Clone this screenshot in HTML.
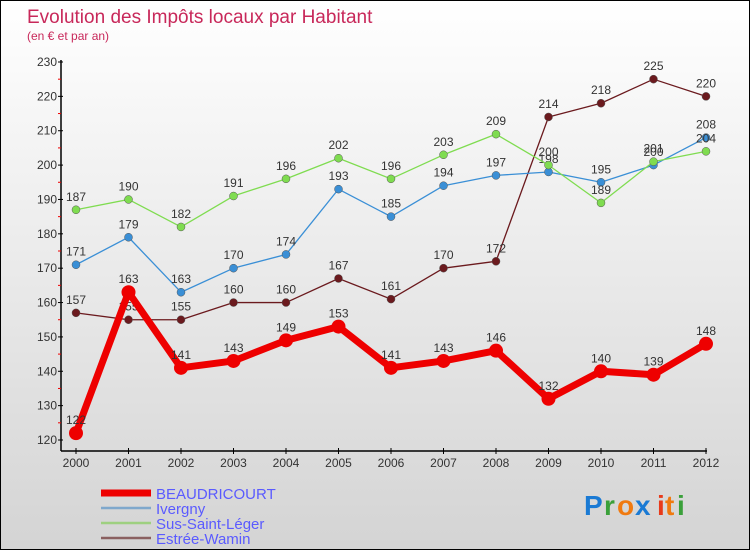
<!DOCTYPE html>
<html><head><meta charset="utf-8">
<style>
html,body{margin:0;padding:0}
body{width:750px;height:550px;overflow:hidden;font-family:"Liberation Sans",sans-serif}
#wrap{position:relative;width:748px;height:548px;border:1px solid #000;background:linear-gradient(#ffffff,#d4d4d4)}
svg{position:absolute;left:0;top:0}
</style></head><body>
<div id="wrap">
<svg id="chart" width="750" height="550">
<text x="26" y="22" font-size="19" fill="#c8285a">Evolution des Impôts locaux par Habitant</text>
<text x="26" y="39" font-size="12" fill="#c8285a">(en € et par an)</text>
<g id="axes"></g><g id="series"></g><g id="legend"></g>
<g font-size="28" font-weight="bold" font-family="'Liberation Sans',sans-serif">
<text x="583" y="514" fill="#1a7ad4">P</text><text x="603" y="514" fill="#3aa03a">r</text><text x="616" y="514" fill="#f07a10">o</text><text x="634" y="514" fill="#1a7ad4">x</text><text x="656" y="514" fill="#e83a1a">i</text><text x="664" y="514" fill="#f07a10">t</text><text x="676" y="514" fill="#3aa03a">i</text>
</g>
</svg>
</div>
<script>
const years=[2000,2001,2002,2003,2004,2005,2006,2007,2008,2009,2010,2011,2012];
const yTicks=[120,130,140,150,160,170,180,190,200,210,220,230];
const beaudricourt=[122,163,141,143,149,153,141,143,146,132,140,139,148];
const ivergny=[171,179,163,170,174,193,185,194,197,198,195,200,208];
const susSaintLeger=[187,190,182,191,196,202,196,203,209,200,189,201,204];
const estreeWamin=[157,155,155,160,160,167,161,170,172,214,218,225,220];
const NS='http://www.w3.org/2000/svg';
function X(i){return 75+i*52.5;}
function Y(v){return 439-(v-120)*37.8/11*1;}
function mk(t,a,p){const e=document.createElementNS(NS,t);for(const k in a)e.setAttribute(k,a[k]);p.appendChild(e);return e;}
const ax=document.getElementById('axes');
let yl=mk('line',{x1:60,y1:59,x2:60,y2:450,stroke:'#000','stroke-width':1.5},ax);


let xl=mk('line',{x1:60,y1:450,x2:706,y2:450,stroke:'#000','stroke-width':1.5},ax);


yTicks.forEach(v=>{
 mk('line',{x1:57,y1:Y(v),x2:62,y2:Y(v),stroke:'#000'},ax);
 if(v<230) mk('line',{x1:57,y1:Y(v+5),x2:60,y2:Y(v+5),stroke:'#e00'},ax);
 const t=mk('text',{x:56,y:Y(v)+4,'font-size':12,fill:'#333','text-anchor':'end'},ax);t.textContent=v;
 
 
});
years.forEach((yr,i)=>{
 mk('line',{x1:X(i),y1:447,x2:X(i),y2:453,stroke:'#000'},ax);
 const t=mk('text',{x:X(i),y:466,'font-size':12,fill:'#333','text-anchor':'middle'},ax);t.textContent=yr;
 
 
});
const S=document.getElementById('series');
const series=[
 {name:'estree-wamin',d:estreeWamin,c:'#6b1a1e',w:1.3,r:4},
 {name:'ivergny',d:ivergny,c:'#3a8fd6',w:1.3,r:4},
 {name:'sus-saint-leger',d:susSaintLeger,c:'#7fdc50',w:1.3,r:4},
 {name:'beaudricourt',d:beaudricourt,c:'#ee0000',w:7,r:7}];
series.forEach(s=>{
 const g=mk('g',{},S);
 
 
 mk('polyline',{points:s.d.map((v,i)=>X(i)+','+Y(v)).join(' '),fill:'none',stroke:s.c,'stroke-width':s.w,'stroke-linejoin':'round'},g);
 s.d.forEach((v,i)=>{
  const c=mk('circle',{cx:X(i),cy:Y(v),r:s.r,fill:s.c,stroke:s.r<5?'#555':'none','stroke-width':0.5},g);
  
  
  const t=mk('text',{x:X(i),y:Y(v)-9,'font-size':12,fill:'#333','text-anchor':'middle'},g);t.textContent=v;
 });
});
const L=document.getElementById('legend');
const leg=[['BEAUDRICOURT','#ee0000',7],['Ivergny','#7fa8cc',2.5],['Sus-Saint-Léger','#9ed080',2.5],['Estrée-Wamin','#8a6060',2.5]];
leg.forEach((l,i)=>{
 const y=492+i*15;
 const g=mk('g',{},L);
 
 
 mk('line',{x1:100,y1:y,x2:150,y2:y,stroke:l[1],'stroke-width':l[2]},g);
 const t=mk('text',{x:155,y:y+6,'font-size':15,fill:'#5a5aff'},g);t.textContent=l[0];
});
</script>
</body></html>
